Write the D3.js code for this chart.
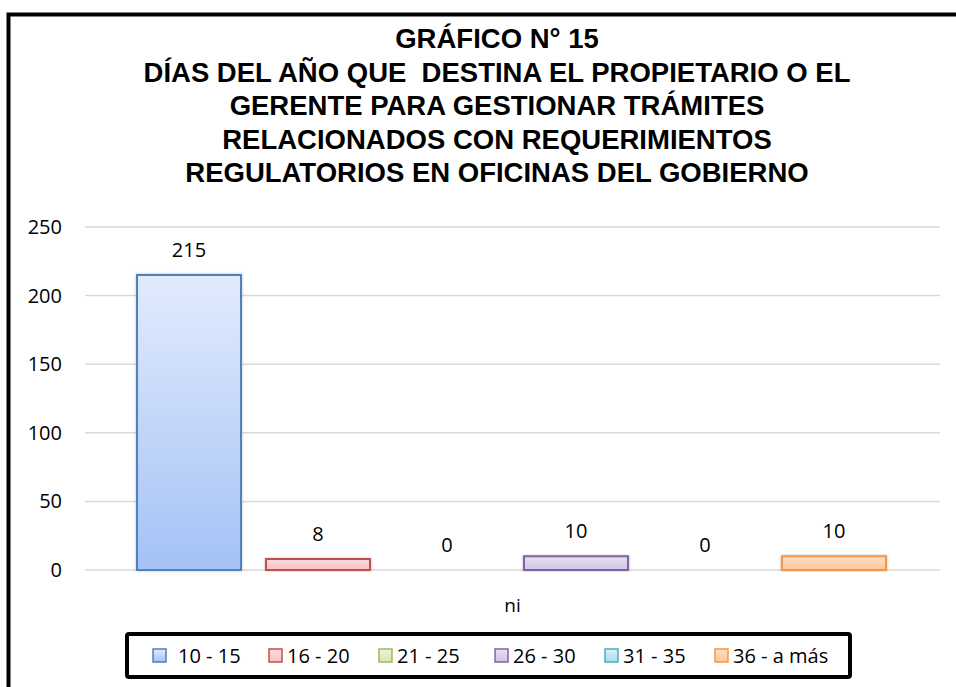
<!DOCTYPE html>
<html>
<head>
<meta charset="utf-8">
<script src="https://cdn.jsdelivr.net/npm/d3@7"></script>
<style>
  body { margin: 0; background: #fff; }
  svg { display: block; }
</style>
</head>
<body>
<div id="chart"></div>
<script>
// data
var titleLines = ["GRÁFICO N° 15",
  "DÍAS DEL AÑO QUE  DESTINA EL PROPIETARIO O EL",
  "GERENTE PARA GESTIONAR TRÁMITES",
  "RELACIONADOS CON REQUERIMIENTOS",
  "REGULATORIOS EN OFICINAS DEL GOBIERNO"];
var category = "ni";
var series = ["10 - 15", "16 - 20", "21 - 25", "26 - 30", "31 - 35", "36 - a más"];
var values = [215, 8, 0, 10, 0, 10];
var yTicks = [0, 50, 100, 150, 200, 250];

// colours per series: stroke, gradient top, gradient bottom
var strokes = ["#4f81bd", "#c0504d", "#9bbb59", "#8064a2", "#4bacc6", "#f79646"];
var topCol = ["#e2ebfd", "#fddede", "#eef5dc", "#e7e0f2", "#dcf1f7", "#fee1c8"];
var botCol = ["#a4c2f6", "#f8c0c0", "#d4e6b0", "#d0c3e8", "#a8dcea", "#fcc697"];

var W = 956, H = 687;
var svg = d3.select("#chart").append("svg")
  .attr("width", W).attr("height", H);

var defs = svg.append("defs");
series.forEach(function(s, i) {
  var g = defs.append("linearGradient")
    .attr("id", "grad" + i)
    .attr("x1", 0).attr("y1", 0).attr("x2", 0).attr("y2", 1);
  g.append("stop").attr("offset", "0%").attr("stop-color", topCol[i]);
  g.append("stop").attr("offset", "100%").attr("stop-color", botCol[i]);
});
var shadow = defs.append("filter").attr("id", "shadow")
  .attr("x", "-10%").attr("y", "-10%").attr("width", "120%").attr("height", "120%");
shadow.append("feDropShadow")
  .attr("dx", 0).attr("dy", 0).attr("stdDeviation", 1.5)
  .attr("flood-color", "#000").attr("flood-opacity", 0.25);

// outer frame (runs past the right and bottom edges)
svg.append("rect")
  .attr("x", 8.5).attr("y", 14.5)
  .attr("width", W + 20).attr("height", H + 20)
  .attr("fill", "none").attr("stroke", "#000").attr("stroke-width", 4);

// title
svg.append("g").selectAll("text")
  .data(titleLines)
  .join("text")
  .attr("x", 497)
  .attr("y", function(d, i) { return 48 + i * 33.5; })
  .attr("text-anchor", "middle")
  .style("white-space", "pre")
  .style("font-family", "'Liberation Sans', Arial, sans-serif")
  .style("font-weight", "bold")
  .style("font-size", "27.5px")
  .text(function(d) { return d; });

// scales
var y = d3.scaleLinear().domain([0, 250]).range([570, 227]);
var x0 = d3.scaleBand().domain([category]).range([85, 940]);
var x1 = d3.scaleBand().domain(series).range([112, 911]).padding(0.194);

// gridlines
svg.append("g").selectAll("line")
  .data(yTicks)
  .join("line")
  .attr("x1", x0.range()[0]).attr("x2", x0.range()[1])
  .attr("y1", function(d) { return y(d); })
  .attr("y2", function(d) { return y(d); })
  .attr("stroke", "#d9d9d9").attr("stroke-width", 1.5);

// y axis labels
var yAxis = svg.append("g")
  .attr("transform", "translate(72,0)")
  .call(d3.axisLeft(y).tickValues(yTicks).tickSize(0).tickPadding(10));
yAxis.select(".domain").remove();
yAxis.selectAll("text")
  .style("font-family", "'Open Sans', sans-serif")
  .style("font-size", "20px")
  .attr("fill", "#000");

// bars
svg.append("g").selectAll("rect")
  .data(values)
  .join("rect")
  .attr("x", function(d, i) { return x1(series[i]); })
  .attr("y", function(d) { return y(d); })
  .attr("width", x1.bandwidth())
  .attr("height", function(d) { return y(0) - y(d); })
  .attr("fill", function(d, i) { return "url(#grad" + i + ")"; })
  .attr("stroke", function(d, i) { return d > 0 ? strokes[i] : "none"; })
  .attr("stroke-width", 2)
  .attr("filter", "url(#shadow)");

// data labels
svg.append("g").selectAll("text")
  .data(values)
  .join("text")
  .attr("x", function(d, i) { return x1(series[i]) + x1.bandwidth() / 2; })
  .attr("y", function(d) { return y(d) - 18; })
  .attr("text-anchor", "middle")
  .style("font-family", "'Open Sans', sans-serif")
  .style("font-size", "20px")
  .text(function(d) { return d; });

// category label
svg.append("text")
  .attr("x", x0(category) + x0.bandwidth() / 2)
  .attr("y", 612)
  .attr("text-anchor", "middle")
  .style("font-family", "'Open Sans', sans-serif")
  .style("font-size", "19px")
  .text(category);

// legend
svg.append("rect")
  .attr("x", 127).attr("y", 634)
  .attr("width", 723).attr("height", 43)
  .attr("rx", 2)
  .attr("fill", "#fff").attr("stroke", "#000").attr("stroke-width", 4);

var legendX = [153, 269, 379, 495, 605, 715];
var leg = svg.append("g").selectAll("g")
  .data(series)
  .join("g")
  .attr("transform", function(d, i) { return "translate(" + legendX[i] + ",649)"; });
leg.append("rect")
  .attr("width", 13).attr("height", 13)
  .attr("fill", function(d, i) { return "url(#grad" + i + ")"; })
  .attr("stroke", function(d, i) { return strokes[i]; })
  .attr("stroke-width", 1.5);
leg.append("text")
  .attr("x", function(d, i) { return i === 0 ? 25 : 18; })
  .attr("y", 14)
  .style("font-family", "'Open Sans', sans-serif")
  .style("font-size", "20px")
  .text(function(d) { return d; });
</script>
</body>
</html>
